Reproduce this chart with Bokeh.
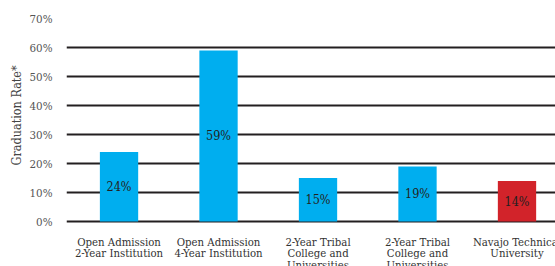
from bokeh.plotting import figure
from bokeh.models import ColumnDataSource, FixedTicker, PrintfTickFormatter, Range1d, Title
from bokeh.core.properties import value
from bokeh.embed import file_html
from bokeh.resources import INLINE

categories = ["Open Admission\n2-Year Institution",
              "Open Admission\n4-Year Institution",
              "2-Year Tribal\nCollege and\nUniversities",
              "2-Year Tribal\nCollege and\nUniversities",
              "Navajo Technical\nUniversity"]
rates = [24, 59, 15, 19, 14]
bar_colors = ["#00aeef", "#00aeef", "#00aeef", "#00aeef", "#d2232a"]
y_ticks = [0, 10, 20, 30, 40, 50, 60, 70]
y_title = "Graduation Rate*"

xs = list(range(len(categories)))
src = ColumnDataSource(dict(x=xs, top=rates, color=bar_colors,
                            mid=[r / 2 for r in rates],
                            label=[f"{r}%" for r in rates],
                            cat=categories,
                            cat_y=[-4.9] * len(categories)))

SERIF_C = "DejaVu Serif Condensed"

p = figure(width=555, height=266, output_backend="svg", toolbar_location=None,
           x_range=Range1d(-0.528, 4.387), y_range=Range1d(-15.5, 70),
           min_border_left=66, min_border_top=18, min_border_right=0, min_border_bottom=0)

p.vbar(x="x", top="top", bottom=0, width=0.385, color="color", source=src, line_color=None)
p.text(x="x", y="mid", text="label", source=src, text_align="center", text_baseline="middle",
       text_font=value(SERIF_C), text_font_size="12.5px", text_color="#231f20")
p.text(x="x", y="cat_y", text="cat", source=src, text_align="center", text_baseline="top",
       text_font=value(SERIF_C), text_font_size="11.3px", text_color="#333333",
       text_line_height=0.88)

p.outline_line_color = None
p.xgrid.grid_line_color = None
p.ygrid.ticker = FixedTicker(ticks=y_ticks)
p.ygrid.grid_line_color = "#231f20"
p.ygrid.grid_line_width = 2.2
p.ygrid.level = "underlay"

p.xaxis.visible = False

p.yaxis.ticker = FixedTicker(ticks=y_ticks)
p.yaxis.formatter = PrintfTickFormatter(format="%d%%")
p.yaxis.axis_line_color = None
p.yaxis.major_tick_line_color = None
p.yaxis.minor_tick_line_color = None
p.yaxis.major_tick_out = 0
p.yaxis.major_label_standoff = 14
p.yaxis.major_label_text_font = SERIF_C
p.yaxis.major_label_text_font_size = "11.5px"
p.yaxis.major_label_text_color = "#555555"

p.add_layout(Title(text=y_title, align="left", offset=101, standoff=6,
                   text_font=SERIF_C, text_font_size="12.5px", text_font_style="normal",
                   text_color="#444444"), "left")

open("out.html", "w").write(file_html(p, INLINE))
